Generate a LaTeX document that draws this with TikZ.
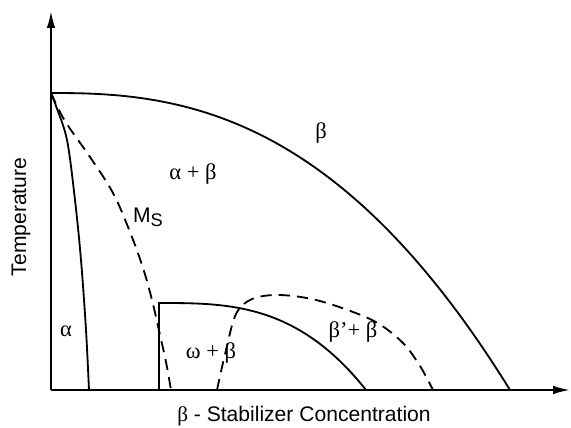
\documentclass[tikz,border=0pt]{standalone}
\usepackage{fontspec}
\setmainfont{Liberation Sans}
\newfontfamily\greekfont{Liberation Serif}
\usetikzlibrary{arrows.meta}

\newcommand{\gr}[1]{{\greekfont #1}}

\begin{document}
\begin{tikzpicture}[x=0.025cm, y=-0.025cm,
  every node/.style={font=\fontsize{15}{18}\selectfont},
  phase/.style={line width=1.3pt},
  trans/.style={line width=1.3pt, dash pattern=on 8pt off 5pt},
  axis/.style={line width=1.4pt, -{Latex[length=12pt,width=6pt]}},
  region/.style={font=\fontsize{16}{18}\selectfont}]
  \useasboundingbox (0,0) rectangle (571,427);
  % ---------- AXES ----------
  \coordinate (O) at (51,390);
  \coordinate (ytop) at (51,11);
  \coordinate (xend) at (570,390);
  \draw[axis] (O) -- (ytop);
  \draw[axis] (O) -- (xend);
  \node[rotate=90] (tlabel) at (21,217) {Temperature};
  \node (clabel) at (304,416) {\gr{β} - Stabilizer Concentration};
  % ---------- BETA TRANSUS ----------
  \draw[phase] plot[domain=0:1, samples=80, smooth]
    ({51+459*\x}, {93+297*\x*\x*sqrt(\x)});
  % ---------- ALPHA / ALPHA+BETA ----------
  \draw[phase] plot[smooth, tension=0.55] coordinates {(51,93) (56,106) (67,140) (75,200)
    (81,260) (86,330) (89,390)};
  % ---------- MARTENSITE START ----------
  \draw[trans] plot[smooth, tension=0.6] coordinates {(51,93) (65,121) (90,157) (113,193)
    (130,232) (143,268) (152,300) (160,335) (166,362) (171,390)};
  % ---------- OMEGA FIELD ----------
  \draw[phase] (159,390) -- (159,303) -- plot[domain=0:1, samples=60, smooth]
    ({159+207*\x}, {303+87*\x*\x*\x});
  \draw[trans] plot[smooth, tension=0.55] coordinates {(217,390) (226,350) (236,314) (252,299)
    (280,295) (320,301) (372,320) (402,342) (420,366) (433,390)};
  % ---------- LABELS ----------
  \node[region] (b) at (321,133) {\gr{β}};
  \node[region] (ab) at (193,174) {\gr{α + β}};
  \node (ms) at (148,217) {M\raisebox{-0.35ex}{\fontsize{13}{15}\selectfont S}};
  \node[region] (a) at (66,331) {\gr{α}};
  \node[region] (wb) at (211,353) {\gr{ω + β}};
  \node[region] (bb) at (353,332) {\gr{β’+ β}};
\end{tikzpicture}
\end{document}
